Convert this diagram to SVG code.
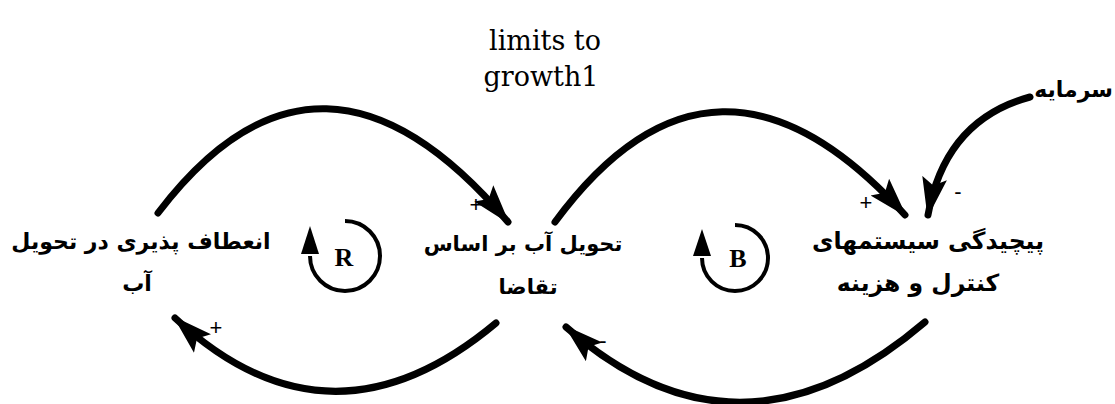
<svg xmlns="http://www.w3.org/2000/svg" width="1115" height="404" viewBox="0 0 1115 404">
<defs>
<marker id="ah" markerUnits="userSpaceOnUse" markerWidth="40" markerHeight="30" refX="30" refY="10" orient="auto" viewBox="0 0 32 20">
<path d="M0,0 L32,10 L0,20 L6,10 Z" fill="#000"/>
</marker>
</defs>
<style>
.fa{font-family:"DejaVu Sans",sans-serif;font-weight:bold;font-size:22px;fill:#000;text-anchor:middle}
.title{font-family:"DejaVu Serif",serif;font-size:27px;fill:#000;text-anchor:middle}
.sign{font-family:"Liberation Sans",sans-serif;font-size:22px;fill:#000;text-anchor:middle}
.lk{fill:none;stroke:#000;stroke-width:7;stroke-linecap:round}
.lp{fill:none;stroke:#000;stroke-width:4}
.hd{fill:#000}
.lb{font-family:"Liberation Serif",serif;font-weight:bold;font-size:26px;fill:#000;text-anchor:middle}
</style>
<rect width="1115" height="404" fill="#fff"/>
<g id="title"><text class="title" x="545" y="50">limits to</text><text class="title" x="541" y="86">growth1</text></g>
<g id="connectors">
<path class="lk" d="M158,213 Q320,0 508,222" marker-end="url(#ah)"/>
<path class="lk" d="M555,222 Q715,5 905,215" marker-end="url(#ah)"/>
<path class="lk" d="M1030,97 Q945,120 928,215" marker-end="url(#ah)"/>
<path class="lk" d="M496,323 Q330,462 175,318" marker-end="url(#ah)"/>
<path class="lk" d="M925,322 Q740,480 566,327" marker-end="url(#ah)"/>
<text class="sign" x="476" y="212">+</text>
<text class="sign" x="866" y="210">+</text>
<text class="sign" x="958" y="199">-</text>
<text class="sign" x="216" y="335">+</text>
<text class="sign" x="603" y="348">-</text>
</g>
<g id="loopR"><path class="lp" d="M345,221 A35,35 0 1 1 310,256"/><path class="hd" d="M310,226 L319,254 L301,254 Z"/><text class="lb" x="344" y="266">R</text></g>
<g id="loopB"><path class="lp" d="M735,225 A33,33 0 1 1 702,258"/><path class="hd" d="M702,229 L711,256 L693,256 Z"/><text class="lb" x="738" y="267">B</text></g>
<g id="n1"><text class="fa" x="141" y="249">انعطاف پذیری در تحویل</text><text class="fa" x="137" y="291">آب</text></g>
<g id="n2"><text class="fa" x="523" y="251" style="font-size:21px">تحویل آب بر اساس</text><text class="fa" x="528" y="294" style="font-size:21px">تقاضا</text></g>
<g id="n3"><text class="fa" x="928" y="249" style="font-size:23.5px">پیچیدگی سیستمهای</text><text class="fa" x="918" y="291" style="font-size:23.5px">کنترل و هزینه</text></g>
<g id="n4"><text class="fa" x="1113" y="97" style="text-anchor:end">سرمایه</text></g>
</svg>
